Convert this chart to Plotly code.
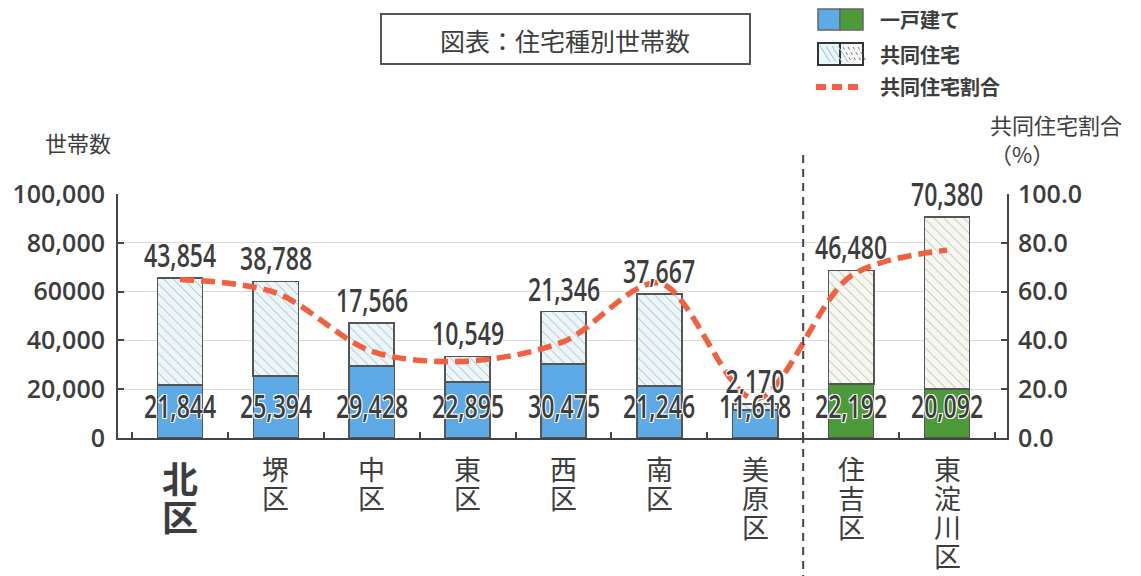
import plotly.graph_objects as go

# ---------------- data ----------------
districts = ["北区", "堺区", "中区", "東区", "西区", "南区", "美原区", "住吉区", "東淀川区"]
detached = [21844, 25394, 29428, 22895, 30475, 21246, 11618, 22192, 20092]
apartment = [43854, 38788, 17566, 10549, 21346, 37667, 2170, 46480, 70380]
apt_ratio = [65.0, 59.5, 35.5, 31.5, 39.5, 63.5, 16.0, 66.5, 77.0]
city_group = ["sakai"] * 7 + ["osaka"] * 2

left_tickvals = [0, 20000, 40000, 60000, 80000, 100000]
left_ticktext = ["0", "20,000", "40,000", "60000", "80,000", "100,000"]
right_tickvals = [0, 20, 40, 60, 80, 100]
right_ticktext = ["0.0", "20.0", "40.0", "60.0", "80.0", "100.0"]

title_text = "図表：住宅種別世帯数"
legend_labels = ["一戸建て", "共同住宅", "共同住宅割合"]
left_title = "世帯数"
right_title = "共同住宅割合<br>（%）"

# ---------------- style ----------------
W, H = 1141, 576
ML, MR, MT, MB = 118, 134, 194, 138
PW, PH = W - ML - MR, H - MT - MB

BLUE, GREEN = "#5eaae6", "#4c9a3a"
APT_BG = {"sakai": "#ebf6fb", "osaka": "#f5f7f0"}
APT_FG = {"sakai": "#b3d8ea", "osaka": "#c9d3b8"}
DET = {"sakai": BLUE, "osaka": GREEN}
LINE_RED = "#f2603f"
TXT = "#3d3d3d"
JP = "Noto Sans CJK JP"
NUM = "Open Sans, Noto Sans, sans-serif"
TICK = "Open Sans, Noto Sans, sans-serif"

def px(x):
    return (x - ML) / PW

def py(y):
    return (H - MB - y) / PH

det_colors = [DET[g] for g in city_group]
apt_bg = [APT_BG[g] for g in city_group]
apt_fg = [APT_FG[g] for g in city_group]
bar_w = 0.47

fig = go.Figure()
fig.add_trace(go.Bar(
    x=districts, y=detached, width=bar_w, name=legend_labels[0],
    marker=dict(color=det_colors, line=dict(color="#555555", width=1.5)),
))
fig.add_trace(go.Bar(
    x=districts, y=apartment, width=bar_w, name=legend_labels[1],
    marker=dict(color=apt_bg,
                pattern=dict(shape="\\", fgcolor=apt_fg, bgcolor=apt_bg,
                             size=7, solidity=0.1, fillmode="overlay"),
                line=dict(color="#555555", width=1.8)),
))
fig.add_trace(go.Scatter(
    x=districts, y=apt_ratio, yaxis="y2", mode="lines", name=legend_labels[2],
    line=dict(color=LINE_RED, width=5.5, dash="14px,7px", shape="spline", smoothing=0.9),
))

ann = []
shadow = "1px 1px 0px white, -1px -1px 0px white, 1px -1px 0px white, -1px 1px 0px white"
num_font = dict(family=NUM, size=32, color=TXT, shadow=shadow, weight=600)
for d, dv, av in zip(districts, detached, apartment):
    ann.append(dict(x=d, y=dv + av, xref="x", yref="y", text=f"{av:,}",
                    showarrow=False, yanchor="bottom", yshift=0, font=num_font))
    ann.append(dict(x=d, y=0, xref="x", yref="y", text=f"{dv:,}",
                    showarrow=False, yanchor="bottom", yshift=9, font=num_font))
    big = d == districts[0]
    fs = 36 if big else 27
    pitch = 38 if big else 29
    top = 11 if big else 9
    for i, ch in enumerate(d):
        ann.append(dict(x=d, y=0, xref="x", yref="y", text=ch, showarrow=False,
                        yanchor="top", yshift=-(top + i * pitch),
                        font=dict(family=JP, size=fs, color=TXT,
                                  weight="bold" if big else "normal")))

# titles
ann.append(dict(x=px(565), y=py(40), xref="paper", yref="paper", text=title_text,
                showarrow=False, xanchor="center", yanchor="middle",
                font=dict(family=JP, size=25, color=TXT)))
ann.append(dict(x=px(78), y=py(142), xref="paper", yref="paper", text=left_title,
                showarrow=False, xanchor="center", yanchor="middle",
                font=dict(family=JP, size=22, color=TXT)))
ann.append(dict(x=px(988), y=py(138), xref="paper", yref="paper", text=right_title,
                showarrow=False, xanchor="left", yanchor="middle", align="left",
                font=dict(family=JP, size=22, color=TXT)))
# legend texts
for lbl, yy in zip(legend_labels, [19, 54, 87]):
    ann.append(dict(x=px(878), y=py(yy), xref="paper", yref="paper", text=lbl,
                    showarrow=False, xanchor="left", yanchor="middle",
                    font=dict(family=JP, size=20, color=TXT, weight="bold")))

shapes = [
    dict(type="rect", xref="paper", yref="paper", x0=px(381), x1=px(750), y0=py(14), y1=py(64),
         line=dict(color="#555555", width=2), fillcolor="rgba(0,0,0,0)"),
    dict(type="rect", xref="paper", yref="paper", x0=px(818), x1=px(840), y0=py(9), y1=py(30),
         line=dict(color="#666666", width=1.5), fillcolor=BLUE),
    dict(type="rect", xref="paper", yref="paper", x0=px(840), x1=px(863), y0=py(9), y1=py(30),
         line=dict(color="#666666", width=1.5), fillcolor=GREEN),
    dict(type="rect", xref="paper", yref="paper", x0=px(818), x1=px(840), y0=py(43), y1=py(65),
         line=dict(color="#333333", width=2), fillcolor=APT_BG["sakai"]),
    dict(type="rect", xref="paper", yref="paper", x0=px(840), x1=px(863), y0=py(43), y1=py(65),
         line=dict(color="#333333", width=2), fillcolor="#f6f6f6"),
    dict(type="line", xref="paper", yref="paper", x0=px(816), x1=px(860), y0=py(87), y1=py(87),
         line=dict(color=LINE_RED, width=6, dash="10px,6px")),
    dict(type="line", xref="x", yref="paper", x0=6.5, x1=6.5, y0=py(155), y1=py(576),
         line=dict(color="#444444", width=2, dash="8px,6px")),
]
for k in range(4):
    x0 = 820 + k * 6
    shapes.append(dict(type="line", xref="paper", yref="paper", x0=px(x0), x1=px(x0 + 10),
                       y0=py(46), y1=py(62), line=dict(color="#8fc4e0", width=1)))
    x1 = 843 + k * 5
    shapes.append(dict(type="line", xref="paper", yref="paper", x0=px(x1), x1=px(x1 + 8),
                       y0=py(47), y1=py(61), line=dict(color="#777777", width=1, dash="dot")))

x_left = (ML - 180) / 95.875
x_right = (W - MR - 180) / 95.875

fig.update_layout(
    width=W, height=H, autosize=False,
    margin=dict(l=ML, r=MR, t=MT, b=MB, pad=0),
    paper_bgcolor="white", plot_bgcolor="white",
    barmode="stack", showlegend=False,
    xaxis=dict(range=[x_left, x_right], showticklabels=False, showline=True, automargin=False,
               linecolor="#444444", linewidth=2, ticks="inside", tickson="boundaries",
               ticklen=6, tickwidth=2, tickcolor="#444444", showgrid=False, zeroline=False),
    yaxis=dict(range=[0, 100000], tickvals=left_tickvals, ticktext=left_ticktext,
               showline=True, linecolor="#444444", linewidth=2, ticks="inside",
               ticklen=6, tickwidth=2, tickcolor="#444444", automargin=False,
               showgrid=True, gridcolor="#d9d9d9", gridwidth=1.2, zeroline=False,
               ticklabelstandoff=6,
               tickfont=dict(family=TICK, size=25, color=TXT, weight=600)),
    yaxis2=dict(range=[0, 100], tickvals=right_tickvals, ticktext=right_ticktext,
                overlaying="y", side="right", showline=True, linecolor="#444444",
                linewidth=2, ticks="inside", ticklen=6, tickwidth=2, tickcolor="#444444",
                showgrid=False, zeroline=False, ticklabelstandoff=4, automargin=False,
                tickfont=dict(family=TICK, size=25, color=TXT, weight=600)),
    annotations=ann, shapes=shapes,
)

# narrow the numeric data labels horizontally (the reference uses a condensed face)
post = """
(function(){
  var gd = document.getElementById('{plot_id}');
  document.body.style.margin = '0';
  function squeeze(){
    if(!gd) return;
    gd.querySelectorAll('text.annotation-text').forEach(function(t){
      if(!/^[0-9,]+$/.test(t.textContent.trim())) return;
      var b = t.getBBox();
      var cx = b.x + b.width / 2;
      t.setAttribute('transform', 'translate(' + cx + ',0) scale(0.72,1) translate(' + (-cx) + ',0)');
    });
  }
  squeeze();
  setTimeout(squeeze, 30);
  setTimeout(squeeze, 300);
  if (gd && gd.on) gd.on('plotly_afterplot', squeeze);
})();
"""

fig.write_html("out.html", post_script=post, config={"displayModeBar": False})
